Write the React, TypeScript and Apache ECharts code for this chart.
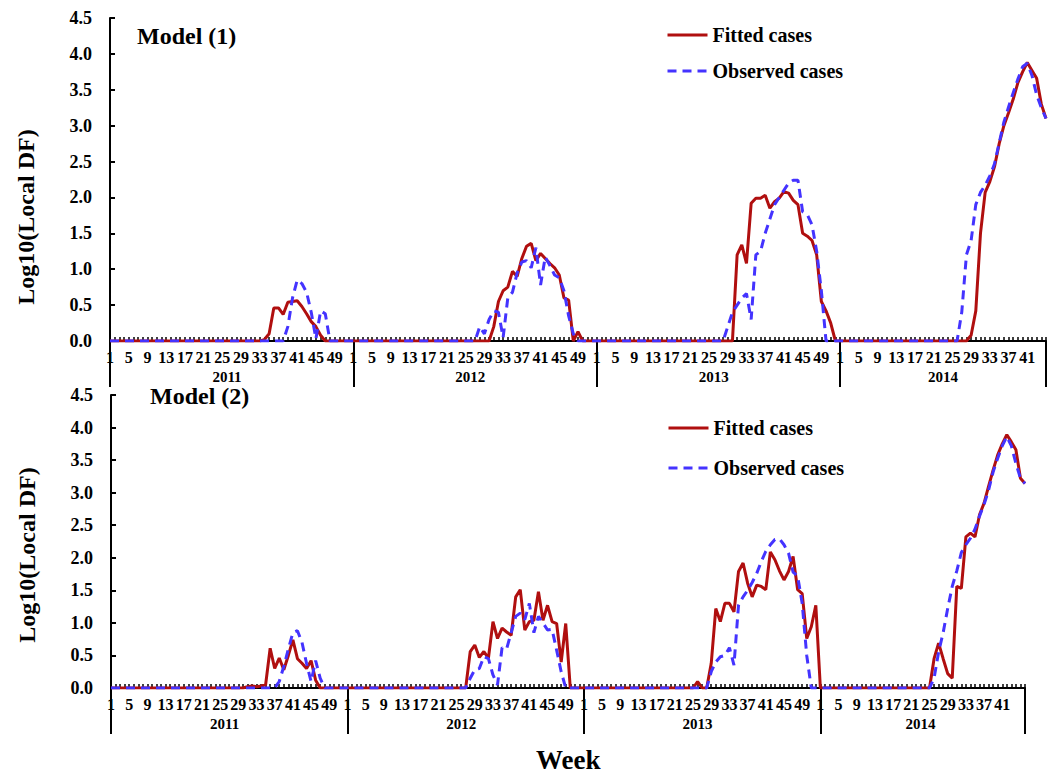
import React, { useEffect, useRef } from "react";
import * as echarts from "echarts";

// ---------- data ----------
const years = ["2011", "2012", "2013", "2014"];
const weekLabelStep = 4; // labels at weeks 1, 5, 9, ...
const lastLabelWeek = 41; // last labelled week of the final (partial) year

// Model (1) — fitted (red, solid)
const m1Fitted2011 = [0,0,0,0,0,0,0,0,0,0,0,0,0,0,0,0,0,0,0,0,0,0,0,0,0,0,0,0,0,0,0,0,0,0.02,0.1,0.46,0.46,0.37,0.54,0.55,0.56,0.48,0.38,0.27,0.2,0.08,0,0,0,0,0,0];
const m1Fitted2012 = [0,0,0,0,0,0,0,0,0,0,0,0,0,0,0,0,0,0,0,0,0,0,0,0,0,0,0,0,0,0,0.2,0.55,0.7,0.75,0.97,0.9,1.15,1.32,1.36,1.12,1.22,1.15,1.08,1.02,0.92,0.6,0.57,0,0.13,0,0,0];
const m1Fitted2013 = [0,0,0,0,0,0,0,0,0,0,0,0,0,0,0,0,0,0,0,0,0,0,0,0,0,0,0,0,0,0,1.2,1.34,1.08,1.92,1.99,1.99,2.03,1.85,1.94,1.99,2.08,2.06,1.96,1.9,1.5,1.46,1.4,1.2,0.55,0.42,0.25,0];
const m1Fitted2014 = [0,0,0,0,0,0,0,0,0,0,0,0,0,0,0,0,0,0,0,0,0,0,0,0,0,0,0,0,0.08,0.42,1.5,2.07,2.22,2.43,2.75,3.0,3.18,3.37,3.6,3.75,3.88,3.77,3.66,3.3,3.1];
// Model (1) — observed (blue, dashed)
const m1Observed2011 = [0,0,0,0,0,0,0,0,0,0,0,0,0,0,0,0,0,0,0,0,0,0,0,0,0,0,0,0,0,0,0,0,0,0,0,0,0,0,0.2,0.6,0.85,0.8,0.68,0.4,0.03,0.42,0.38,0,0,0,0,0];
const m1Observed2012 = [0,0,0,0,0,0,0,0,0,0,0,0,0,0,0,0,0,0,0,0,0,0,0,0,0,0,0,0.2,0.1,0.3,0.42,0.4,0.05,0.6,0.68,0.95,1.1,1.12,1.02,1.3,0.78,1.17,1.05,0.92,0.88,0.7,0.35,0.1,0,0,0,0];
const m1Observed2013 = [0,0,0,0,0,0,0,0,0,0,0,0,0,0,0,0,0,0,0,0,0,0,0,0,0,0,0,0,0.2,0.4,0.5,0.6,0.66,0.3,1.2,1.25,1.5,1.7,1.9,2.0,2.1,2.2,2.24,2.24,1.8,1.76,1.62,1.25,0.7,0,0,0];
const m1Observed2014 = [0,0,0,0,0,0,0,0,0,0,0,0,0,0,0,0,0,0,0,0,0,0,0,0,0,0,0.4,1.2,1.4,1.9,2.07,2.17,2.3,2.47,2.76,3.05,3.26,3.46,3.65,3.82,3.87,3.7,3.43,3.25,3.1];

// Model (2) — fitted (red, solid)
const m2Fitted2011 = [0,0,0,0,0,0,0,0,0,0,0,0,0,0,0,0,0,0,0,0,0,0,0,0,0,0,0,0,0,0,0.02,0.03,0.02,0.03,0.05,0.61,0.3,0.46,0.28,0.5,0.74,0.45,0.38,0.3,0.42,0.12,0,0,0,0,0,0];
const m2Fitted2012 = [0,0,0,0,0,0,0,0,0,0,0,0,0,0,0,0,0,0,0,0,0,0,0,0,0,0,0,0.56,0.66,0.47,0.56,0.46,1.02,0.76,0.92,0.86,0.81,1.4,1.51,0.89,1.02,1.04,1.48,1.04,1.27,1.02,0.99,0.4,0.99,0,0,0];
const m2Fitted2013 = [0,0,0,0,0,0,0,0,0,0,0,0,0,0,0,0,0,0,0,0,0,0,0,0,0,0.1,0,0,0.38,1.22,1.02,1.3,1.3,1.17,1.79,1.92,1.61,1.4,1.58,1.56,1.51,2.09,1.97,1.8,1.66,1.79,2.02,1.51,1.45,0.76,0.94,1.27];
const m2Fitted2014 = [0,0,0,0,0,0,0,0,0,0,0,0,0,0,0,0,0,0,0,0,0,0,0,0,0,0.45,0.69,0.45,0.22,0.15,1.56,1.53,2.32,2.38,2.32,2.66,2.84,3.1,3.35,3.58,3.75,3.89,3.78,3.66,3.22,3.14];
// Model (2) — observed (blue, dashed)
const m2Observed2011 = [0,0,0,0,0,0,0,0,0,0,0,0,0,0,0,0,0,0,0,0,0,0,0,0,0,0,0,0,0,0,0,0,0,0,0,0,0,0.1,0.33,0.6,0.85,0.88,0.7,0.38,0.1,0.42,0.15,0,0,0,0,0];
const m2Observed2012 = [0,0,0,0,0,0,0,0,0,0,0,0,0,0,0,0,0,0,0,0,0,0,0,0,0,0,0,0.15,0.28,0.3,0.48,0.45,0.2,0.05,0.62,0.6,0.85,1.1,1.15,1.05,1.3,0.85,1.1,1.0,0.89,0.9,0.58,0.25,0,0,0,0];
const m2Observed2013 = [0,0,0,0,0,0,0,0,0,0,0,0,0,0,0,0,0,0,0,0,0,0,0,0,0,0,0,0,0.25,0.4,0.48,0.5,0.62,0.35,1.27,1.4,1.5,1.62,1.76,1.94,2.1,2.2,2.28,2.29,2.2,2.07,1.78,1.72,1.3,0.5,0,0];
const m2Observed2014 = [0,0,0,0,0,0,0,0,0,0,0,0,0,0,0,0,0,0,0,0,0,0,0,0,0,0.15,0.55,0.85,1.22,1.56,1.8,2.08,2.2,2.3,2.44,2.64,2.82,3.04,3.32,3.53,3.72,3.86,3.72,3.45,3.22,3.14];

const yTicks = { min: 0, max: 4.5, interval: 0.5 };

// ---------- styling ----------
const FONT = '"Liberation Serif", "Times New Roman", Times, serif';
const RED = "#B00F0F";
const BLUE = "#4433FF";

function buildWeekAxis(perYear: number[][]) {
  const cats: string[] = [];
  const labelIdx = new Set<number>();
  const boundaryIdx = new Set<number>();
  const midIdx = new Set<number>();
  perYear.forEach((arr, y) => {
    const start = cats.length;
    boundaryIdx.add(start);
    arr.forEach((_, w) => {
      const week = w + 1;
      const idx = cats.length;
      cats.push(`${years[y]}|${week}`);
      const isLast = y === perYear.length - 1;
      if ((week - 1) % weekLabelStep === 0 && (!isLast || week <= lastLabelWeek)) labelIdx.add(idx);
    });
    midIdx.add(start + Math.floor((arr.length - 1) / 2));
  });
  boundaryIdx.add(cats.length - 1);
  return { cats, labelIdx, boundaryIdx, midIdx };
}

function xAxesFor(gridIndex: number, ax: ReturnType<typeof buildWeekAxis>) {
  return [
    {
      type: "category",
      gridIndex,
      data: ax.cats,
      boundaryGap: false,
      position: "bottom",
      axisLine: { show: true, onZero: false, lineStyle: { color: "#000", width: 2 } },
      axisTick: { show: true, inside: true, length: 4, interval: 0, lineStyle: { color: "#000", width: 1.5 } },
      axisLabel: {
        show: true,
        interval: (i: number) => ax.labelIdx.has(i),
        formatter: (v: string) => v.split("|")[1],
        margin: 8,
        color: "#000",
        fontFamily: FONT,
        fontWeight: "bold",
        fontSize: 16,
      },
      splitLine: { show: false },
    },
    {
      type: "category",
      gridIndex,
      data: ax.cats,
      boundaryGap: false,
      position: "bottom",
      axisLine: { show: false },
      axisTick: {
        show: true,
        inside: false,
        length: 46,
        interval: (i: number) => ax.boundaryIdx.has(i),
        lineStyle: { color: "#000", width: 2 },
      },
      axisLabel: {
        show: true,
        interval: (i: number) => ax.midIdx.has(i),
        formatter: (v: string) => v.split("|")[0],
        margin: 28,
        color: "#000",
        fontFamily: FONT,
        fontWeight: "bold",
        fontSize: 15,
      },
      splitLine: { show: false },
    },
  ];
}

function yAxisFor(gridIndex: number) {
  return {
    type: "value",
    gridIndex,
    min: yTicks.min,
    max: yTicks.max,
    interval: yTicks.interval,
    axisLine: { show: true, lineStyle: { color: "#000", width: 2 } },
    axisTick: { show: true, inside: true, length: 5, lineStyle: { color: "#000", width: 2 } },
    axisLabel: {
      formatter: (v: number) => v.toFixed(1),
      margin: 18,
      color: "#000",
      fontFamily: FONT,
      fontWeight: "bold",
      fontSize: 18,
    },
    splitLine: { show: false },
  };
}

function seriesFor(xAxisIndex: number, yAxisIndex: number, fitted: number[], observed: number[]) {
  return [
    {
      type: "line",
      name: "Fitted cases",
      xAxisIndex,
      yAxisIndex,
      data: fitted,
      symbol: "none",
      lineStyle: { color: RED, width: 3 },
      itemStyle: { color: RED },
      z: 2,
    },
    {
      type: "line",
      name: "Observed cases",
      xAxisIndex,
      yAxisIndex,
      data: observed,
      symbol: "none",
      lineStyle: { color: BLUE, width: 3, type: [9, 6] },
      itemStyle: { color: BLUE },
      z: 3,
    },
  ];
}

const legendText = { fontFamily: FONT, fontWeight: "bold", fontSize: 20, color: "#000", lineHeight: 20 };
const titleText = { fontFamily: FONT, fontWeight: "bold", fontSize: 24, color: "#000" };

function legendAt(left: number, top: number, gap: number) {
  return {
    data: ["Fitted cases", "Observed cases"],
    orient: "vertical",
    left,
    top,
    padding: 0,
    itemWidth: 40,
    itemHeight: 14,
    itemGap: gap,
    selectedMode: false,
    itemStyle: { opacity: 0, borderWidth: 0 },
    lineStyle: { width: 3 },
    textStyle: legendText,
  };
}

export default function App() {
  const ref = useRef<HTMLDivElement>(null);
  useEffect(() => {
    if (!ref.current) return;
    const chart = echarts.init(ref.current, undefined, { renderer: "svg" });

    const m1Fitted = [...m1Fitted2011, ...m1Fitted2012, ...m1Fitted2013, ...m1Fitted2014];
    const m1Observed = [...m1Observed2011, ...m1Observed2012, ...m1Observed2013, ...m1Observed2014];
    const m2Fitted = [...m2Fitted2011, ...m2Fitted2012, ...m2Fitted2013, ...m2Fitted2014];
    const m2Observed = [...m2Observed2011, ...m2Observed2012, ...m2Observed2013, ...m2Observed2014];

    const ax1 = buildWeekAxis([m1Fitted2011, m1Fitted2012, m1Fitted2013, m1Fitted2014]);
    const ax2 = buildWeekAxis([m2Fitted2011, m2Fitted2012, m2Fitted2013, m2Fitted2014]);

    chart.setOption({
      animation: false,
      backgroundColor: "#fff",
      grid: [
        { left: 110, top: 18, width: 936, height: 323, containLabel: false, outerBoundsMode: "none" },
        { left: 111, top: 395, width: 914, height: 293, containLabel: false, outerBoundsMode: "none" },
      ],
      title: [
        { text: "Model (1)", left: 137, top: 24, padding: 0, textStyle: titleText },
        { text: "Model (2)", left: 150, top: 384, padding: 0, textStyle: titleText },
        { text: "Week", left: 536, top: 746, padding: 0, textStyle: { ...titleText, fontSize: 27 } },
      ],
      legend: [legendAt(666, 25, 16), legendAt(667, 418, 20)],
      graphic: [
        {
          type: "text",
          x: 26,
          y: 217,
          rotation: Math.PI / 2,
          style: { text: "Log10(Local DF)", font: `bold 24px ${FONT}`, fill: "#000", align: "center", verticalAlign: "middle" },
        },
        {
          type: "text",
          x: 27,
          y: 555,
          rotation: Math.PI / 2,
          style: { text: "Log10(Local DF)", font: `bold 24px ${FONT}`, fill: "#000", align: "center", verticalAlign: "middle" },
        },
      ],
      xAxis: [...xAxesFor(0, ax1), ...xAxesFor(1, ax2)],
      yAxis: [yAxisFor(0), yAxisFor(1)],
      series: [...seriesFor(0, 0, m1Fitted, m1Observed), ...seriesFor(2, 1, m2Fitted, m2Observed)],
    });
    return () => chart.dispose();
  }, []);
  return (
    <div
      ref={ref}
      style={{ position: "fixed", left: 0, top: 0, width: 1049, height: 774, background: "#fff" }}
    />
  );
}
